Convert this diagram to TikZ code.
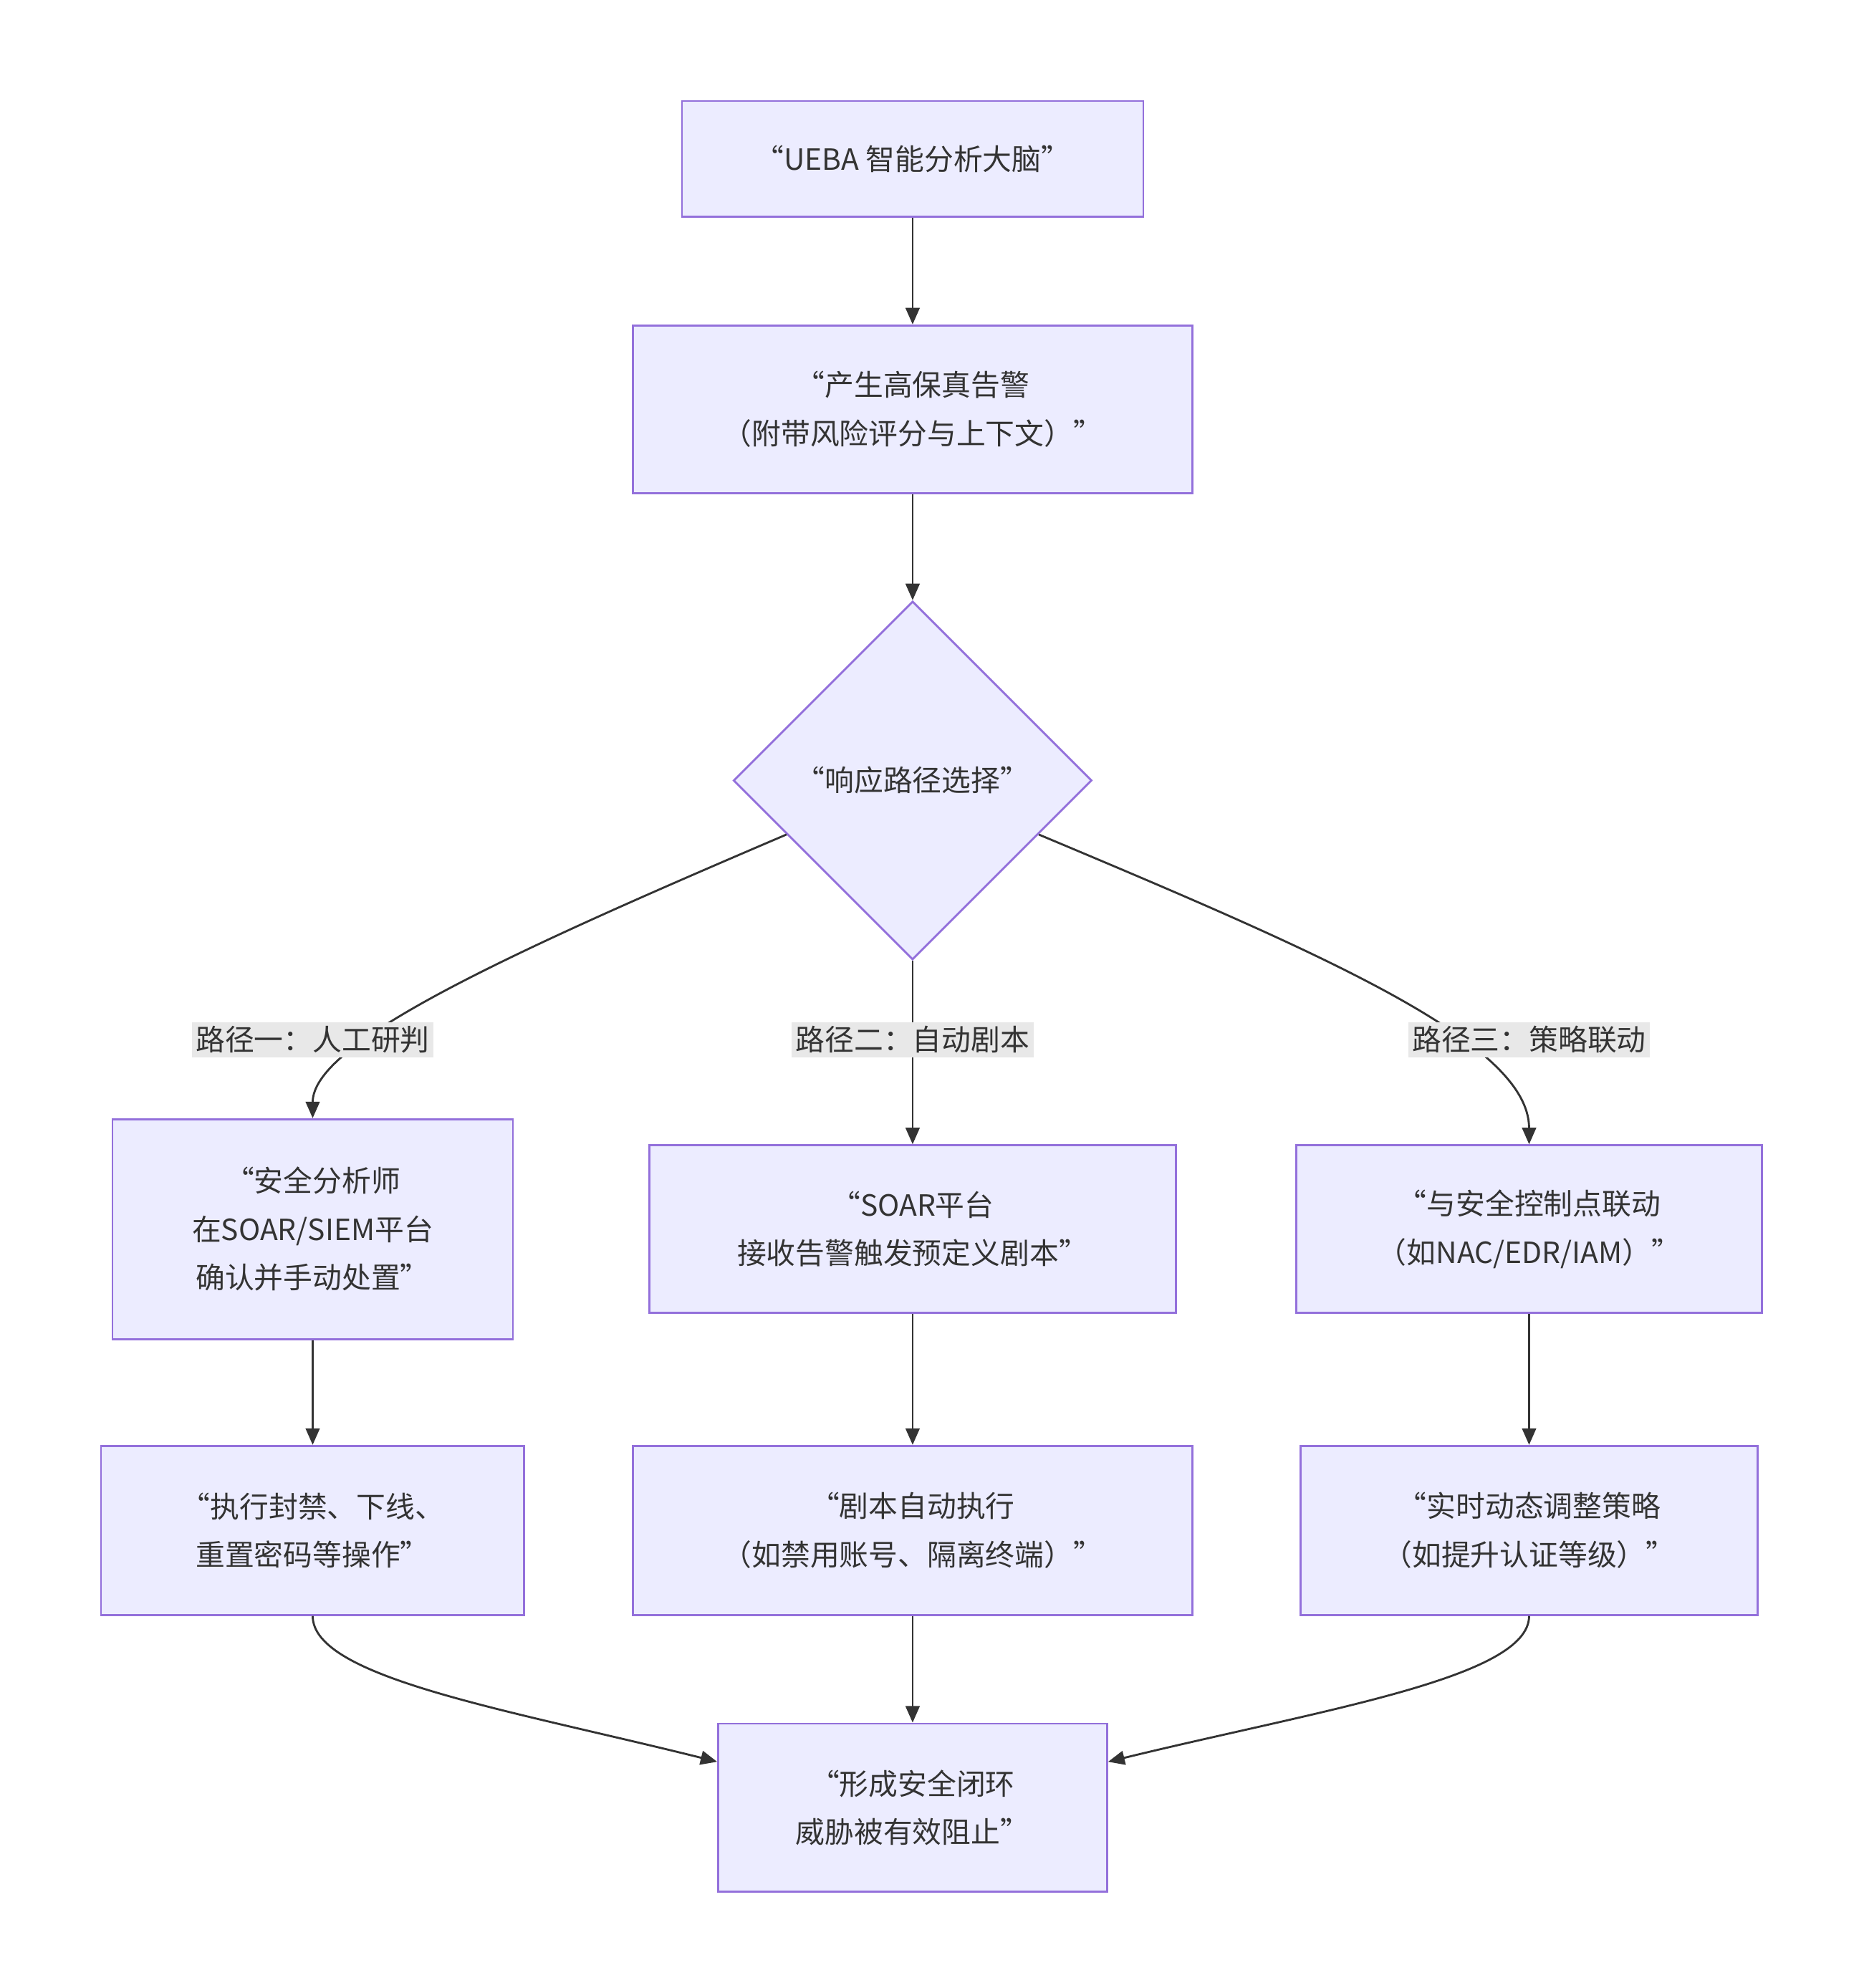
\documentclass[tikz,border=0pt]{standalone}
\usepackage{fontspec}
\setmainfont{Noto Sans CJK SC}
\usetikzlibrary{shapes.geometric,arrows.meta,calc}
\definecolor{nf}{HTML}{ECECFF}
\definecolor{nb}{HTML}{9370DB}
\definecolor{ln}{HTML}{333333}
\definecolor{lb}{HTML}{E8E8E8}
\begin{document}
\begin{tikzpicture}[x=1pt,y=-1pt,
  box/.style={draw=nb,fill=nf,line width=1.6pt,minimum width=#1,align=center,font=\fontsize{23}{38}\selectfont,text=ln,inner sep=0pt},
  lab/.style={fill=lb,font=\fontsize{23}{28}\selectfont,text=ln,inner sep=3pt},
  arr/.style={draw=ln,line width=1.6pt,-{Triangle[length=13pt,width=11pt]}}]
\useasboundingbox (0,0) rectangle (1462,1564);
\node[box=363pt,minimum height=91pt] (A) at (718,125) {“UEBA 智能分析大脑”};
\node[box=440pt,minimum height=132pt] (B) at (718,322) {“产生高保真告警\\（附带风险评分与上下文）”};
\node[draw=nb,fill=nf,line width=1.6pt,diamond,minimum width=282pt,minimum height=282pt,inner sep=0pt,font=\fontsize{23}{28}\selectfont,text=ln] (C) at (718,614) {“响应路径选择”};
\node[box=315pt,minimum height=173pt] (D1) at (246,967) {“安全分析师\\在SOAR/SIEM平台\\确认并手动处置”};
\node[box=414pt,minimum height=132pt] (D2) at (718,967) {“SOAR平台\\接收告警触发预定义剧本”};
\node[box=366pt,minimum height=132pt] (D3) at (1203,967) {“与安全控制点联动\\（如NAC/EDR/IAM）”};
\node[box=333pt,minimum height=133pt] (E1) at (246,1204) {“执行封禁、下线、\\重置密码等操作”};
\node[box=440pt,minimum height=133pt] (E2) at (718,1204) {“剧本自动执行\\（如禁用账号、隔离终端）”};
\node[box=360pt,minimum height=133pt] (E3) at (1203,1204) {“实时动态调整策略\\（如提升认证等级）”};
\node[box=306pt,minimum height=132pt] (F) at (718,1422) {“形成安全闭环\\威胁被有效阻止”};
\coordinate (p1) at ($(C.west)!0.3!(C.south)$);
\coordinate (p3) at ($(C.east)!0.3!(C.south)$);
\draw[arr] (A) -- (B);
\draw[arr] (B) -- (C);
\draw[arr] (p1) .. controls (400,750) and (246,820) .. (D1.north);
\draw[arr] (C) -- (D2);
\draw[arr] (p3) .. controls (1040,750) and (1203,820) .. (D3.north);
\draw[arr] (D1) -- (E1);
\draw[arr] (D2) -- (E2);
\draw[arr] (D3) -- (E3);
\draw[arr] (E2) -- (F);
\draw[arr] (E1.south) .. controls (246,1320) and (400,1345) .. ($(F.west)+(0,-36)$);
\draw[arr] (E3.south) .. controls (1203,1320) and (1040,1345) .. ($(F.east)+(0,-36)$);
\node[lab] (L1) at (246,818) {路径一：人工研判};
\node[lab] (L2) at (718,818) {路径二：自动剧本};
\node[lab] (L3) at (1203,818) {路径三：策略联动};
\end{tikzpicture}
\end{document}
